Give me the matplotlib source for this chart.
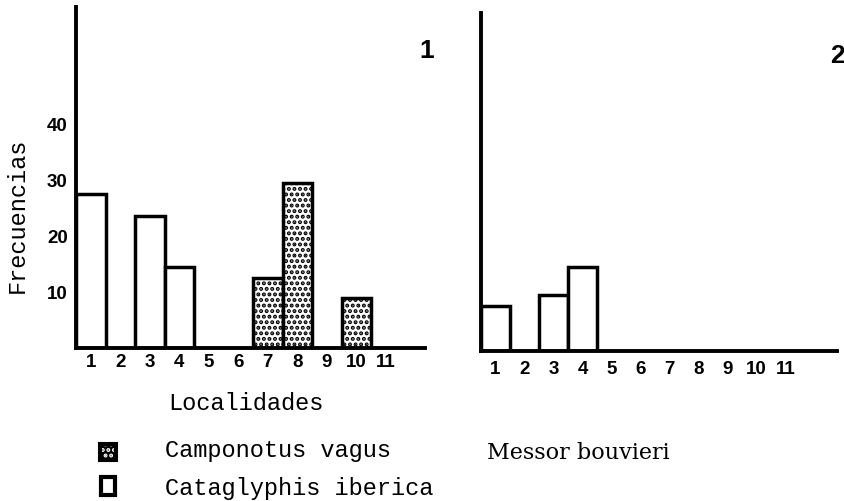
import numpy as np
import matplotlib
matplotlib.use('Agg')
import matplotlib.pyplot as plt
from matplotlib.patches import Rectangle

# datos
localidades = np.arange(1, 12)
tick_labels = [str(i) for i in localidades]
cataglyphis = [27.5, 0, 23.5, 14.5, 0, 0, 0, 0, 0, 0, 0]   # panel 1, barras blancas
camponotus = [0, 0, 0, 0, 0, 0, 12.5, 29.5, 0, 9, 0]       # panel 1, barras punteadas
messor = [8, 0, 10, 15, 0, 0, 0, 0, 0, 0, 0]               # panel 2
yticks = [10, 20, 30, 40]

W, H = 845, 501
plt.rcParams['hatch.linewidth'] = 2.0
lw = 2.5
tickfont = dict(family='Liberation Sans', weight='bold', size=13.5)
mono = 'Liberation Mono'

fig = plt.figure(figsize=(W / 100, H / 100), dpi=100)


def px_axes(x0, y_top, x1, y_bot):
    return fig.add_axes([x0 / W, 1 - y_bot / H, (x1 - x0) / W, (y_bot - y_top) / H])


def barras(ax, vals, hatch=None):
    x = [l for l, v in zip(localidades, vals) if v > 0]
    h = [v for v in vals if v > 0]
    ax.bar(x, h, width=1.0, facecolor='white', edgecolor='black',
           linewidth=lw, hatch=hatch, zorder=2)


def estilo(ax, xmax):
    for s in ['top', 'right']:
        ax.spines[s].set_visible(False)
    for s in ['left', 'bottom']:
        ax.spines[s].set_linewidth(lw + 0.3)
    ax.set_xlim(0.5, xmax)
    ax.set_xticks(localidades)
    ax.set_xticklabels(tick_labels, fontdict=tickfont)
    ax.tick_params(length=0, pad=4)


# panel 1
ax1 = px_axes(76, 7, 425, 348)
barras(ax1, cataglyphis)
barras(ax1, camponotus, hatch='...')
estilo(ax1, 12.33)
ax1.set_ylim(0, 60.9)
ax1.set_yticks(yticks)
ax1.set_yticklabels([str(t) for t in yticks], fontdict=tickfont)
ax1.tick_params(axis='y', pad=6)

# panel 2
ax2 = px_axes(481, 13, 837, 351)
barras(ax2, messor)
estilo(ax2, 12.78)
ax2.set_ylim(0, 60.4)
ax2.set_yticks([])
ax2.tick_params(axis='x', pad=7)

# textos
fig.text(246 / W, 1 - 403 / H, 'Localidades', family=mono, size=17,
         ha='center', va='center')
fig.text(17 / W, 1 - 215 / H, 'Frecuencias', family=mono, size=17,
         ha='center', va='center', rotation=90)
fig.text(427 / W, 1 - 51 / H, '1', family='Liberation Sans', weight='bold',
         size=19, ha='center', va='center')
fig.text(837 / W, 1 - 56 / H, '2', family='Liberation Sans', weight='bold',
         size=19, ha='center', va='center')

# leyenda
fig.patches.append(Rectangle((99 / W, 1 - 461 / H), 18 / W, 18 / H,
                             transform=fig.transFigure, facecolor='black',
                             edgecolor='black', linewidth=1.5))
fig.patches.append(Rectangle((102 / W, 1 - 458 / H), 12 / W, 12 / H,
                             transform=fig.transFigure, facecolor='none',
                             edgecolor='white', hatch='...', linewidth=0))
fig.patches.append(Rectangle((101 / W, 1 - 495 / H), 14 / W, 18 / H,
                             transform=fig.transFigure, facecolor='white',
                             edgecolor='black', linewidth=3))
fig.text(165 / W, 1 - 450 / H, 'Camponotus vagus', family=mono, size=17,
         ha='left', va='center')
fig.text(165 / W, 1 - 488 / H, 'Cataglyphis iberica', family=mono, size=17,
         ha='left', va='center')
fig.text(487 / W, 1 - 453 / H, 'Messor bouvieri', family='DejaVu Serif',
         size=16, ha='left', va='center')

fig.savefig('out.png', dpi=100)
